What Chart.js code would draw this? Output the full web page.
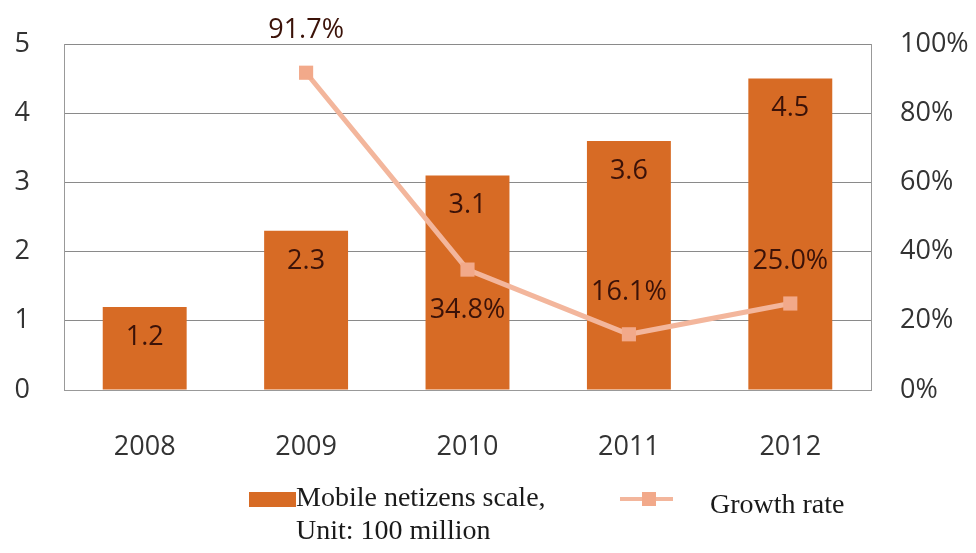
<!DOCTYPE html>
<html>
<head>
<meta charset="utf-8">
<script src="https://cdn.jsdelivr.net/npm/chart.js@4.4.1/dist/chart.umd.min.js"></script>
<style>
  html, body { margin: 0; padding: 0; background: #fff; }
  #wrap { position: relative; width: 976px; height: 553px; }
  #legend { position: absolute; left: 0; top: 0; width: 976px; height: 553px; pointer-events: none;
            font-family: "Liberation Serif", "DejaVu Serif", serif; font-size: 28px; line-height: 28px; color: #1a1a1a; }
  .sw { position: absolute; left: 249px; top: 492px; width: 47px; height: 15px; background: #D76B25; }
  .t1 { position: absolute; left: 296px; top: 483px; white-space: nowrap; }
  .t2 { position: absolute; left: 296px; top: 516px; white-space: nowrap; }
  .ln { position: absolute; left: 620px; top: 497px; width: 53px; height: 4px; background: #F3B69C; }
  .mk { position: absolute; left: 642px; top: 492px; width: 14px; height: 14px; background: #F2A98A; }
  .t3 { position: absolute; left: 710px; top: 490px; white-space: nowrap; }
</style>
</head>
<body>
<div id="wrap">
  <canvas id="chart" width="976" height="553"></canvas>
  <div id="legend">
    <div class="sw"></div>
    <div class="t1">Mobile netizens scale,</div>
    <div class="t2">Unit: 100 million</div>
    <div class="ln"></div>
    <div class="mk"></div>
    <div class="t3">Growth rate</div>
  </div>
</div>
<script>
var years = ['2008', '2009', '2010', '2011', '2012'];
var netizens = [1.2, 2.3, 3.1, 3.6, 4.5];
var growthRate = [null, 91.7, 34.8, 16.1, 25.0];
// where each growth label sits relative to its point
var growthLabelSide = [null, 'above', 'below', 'above', 'above'];

var barColor = '#D76B25';
var lineColor = '#F3B69C';
var markColor = '#F2A98A';
var labelColor = '#3B1208';
var tickFont = { family: 'Open Sans', size: 27 };

var valueLabels = {
  id: 'valueLabels',
  afterDatasetsDraw: function (chart) {
    var ctx = chart.ctx;
    ctx.save();
    ctx.font = '27px "Open Sans"';
    ctx.fillStyle = labelColor;
    ctx.textAlign = 'center';
    ctx.textBaseline = 'middle';
    chart.getDatasetMeta(0).data.forEach(function (bar, i) {
      ctx.fillText(netizens[i].toFixed(1), bar.x, bar.y + 30);
    });
    chart.getDatasetMeta(1).data.forEach(function (pt, i) {
      if (growthRate[i] === null) return;
      var dy = growthLabelSide[i] === 'below' ? 41 : -42;
      ctx.fillText(growthRate[i].toFixed(1) + '%', pt.x, pt.y + dy);
    });
    ctx.restore();
  }
};

// y scales: fixed width, no extra room above the top tick
function fitY(width) {
  return function (s) {
    s.width = width;
    s.paddingTop = 0;
    s.paddingBottom = 0;
  };
}

new Chart(document.getElementById('chart'), {
  type: 'bar',
  data: {
    labels: years,
    datasets: [
      {
        type: 'bar',
        label: 'Mobile netizens scale, Unit: 100 million',
        data: netizens,
        backgroundColor: barColor,
        yAxisID: 'y',
        order: 1,
        categoryPercentage: 1,
        barPercentage: 0.52
      },
      {
        type: 'line',
        label: 'Growth rate',
        data: growthRate.map(function (v) { return v === null ? null : v / 100; }),
        borderColor: lineColor,
        borderWidth: 5,
        pointStyle: 'rect',
        pointRadius: 10,
        pointBackgroundColor: markColor,
        pointBorderColor: markColor,
        pointBorderWidth: 0,
        yAxisID: 'y1',
        order: 0
      }
    ]
  },
  options: {
    responsive: false,
    animation: false,
    layout: { padding: { top: 44, left: 0, right: 0, bottom: 73 } },
    plugins: {
      legend: { display: false },
      tooltip: { enabled: false }
    },
    scales: {
      x: {
        grid: { display: false },
        border: { display: true, color: '#999', width: 1 },
        ticks: { font: tickFont, color: '#333', padding: 33 },
        afterFit: function (s) { s.height = 90; s.paddingLeft = 0; s.paddingRight = 0; }
      },
      y: {
        position: 'left',
        min: 0,
        max: 5,
        ticks: { stepSize: 1, font: tickFont, color: '#333', padding: 34 },
        grid: { color: '#8a8a8a', lineWidth: 1, drawTicks: false },
        border: { display: true, color: '#999', width: 1 },
        afterFit: fitY(64)
      },
      y1: {
        position: 'right',
        min: 0,
        max: 1,
        ticks: {
          stepSize: 0.2,
          font: tickFont,
          color: '#333',
          padding: 29,
          callback: function (v) { return Math.round(v * 100) + '%'; }
        },
        grid: { drawOnChartArea: false, drawTicks: false },
        border: { display: true, color: '#999', width: 1 },
        afterFit: fitY(105)
      }
    }
  },
  plugins: [valueLabels]
});
</script>
</body>
</html>
